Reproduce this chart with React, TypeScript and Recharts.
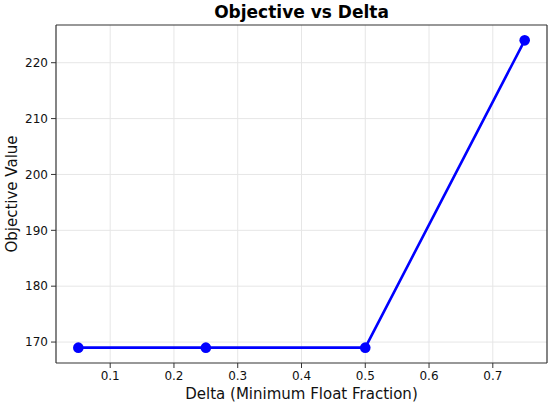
import { LineChart, Line, XAxis, YAxis, CartesianGrid, ReferenceLine } from 'recharts'

const deltas = [0.05, 0.25, 0.5, 0.75]
const objectives = [169, 169, 169, 224]
const xTicks = [0.1, 0.2, 0.3, 0.4, 0.5, 0.6, 0.7]
const yTicks = [170, 180, 190, 200, 210, 220]
const xDomain = [0.015, 0.785]
const yDomain = [166.25, 226.75]

const data = deltas.map((d, i) => ({ d, v: objectives[i] }))

const font = '"DejaVu Sans", sans-serif'
const frame = '#333333'
const tickStyle = { fontSize: 12, fill: '#111', fontFamily: font }

export default function App() {
  return (
    <div style={{ position: 'absolute', left: 0, top: 0, width: 550, height: 406, background: '#fff', fontFamily: font }}>
      <div style={{ position: 'absolute', left: 56, width: 491, top: 2, textAlign: 'center', fontSize: 17, fontWeight: 'bold', color: '#000' }}>
        Objective vs Delta
      </div>
      <div style={{ position: 'absolute', left: 56, width: 491, top: 385, textAlign: 'center', fontSize: 15, color: '#111' }}>
        Delta (Minimum Float Fraction)
      </div>
      <div style={{ position: 'absolute', left: 12, top: 194, transform: 'translate(-50%, -50%) rotate(-90deg)', whiteSpace: 'nowrap', fontSize: 15, color: '#111' }}>
        Objective Value
      </div>
      <LineChart width={550} height={406} data={data} margin={{ top: 25, right: 3, bottom: 0, left: 0 }}>
        <CartesianGrid stroke="#e6e6e6" strokeWidth={1} horizontalValues={yTicks} verticalValues={xTicks} />
        <XAxis
          dataKey="d"
          type="number"
          domain={xDomain}
          ticks={xTicks}
          allowDataOverflow
          tick={tickStyle}
          tickSize={5}
          tickMargin={3}
          axisLine={{ stroke: frame, strokeWidth: 1.2 }}
          tickLine={{ stroke: frame }}
          height={43}
        />
        <YAxis
          type="number"
          domain={yDomain}
          ticks={yTicks}
          allowDataOverflow
          tick={tickStyle}
          tickSize={5}
          tickMargin={3}
          axisLine={{ stroke: frame, strokeWidth: 1.2 }}
          tickLine={{ stroke: frame }}
          width={56}
        />
        <ReferenceLine y={yDomain[1]} stroke={frame} strokeWidth={1.2} />
        <ReferenceLine x={xDomain[1]} stroke={frame} strokeWidth={1.2} />
        <Line
          dataKey="v"
          type="linear"
          stroke="#0000ff"
          strokeWidth={2.6}
          dot={{ r: 5.3, fill: '#0000ff', stroke: '#0000ff', strokeWidth: 0 }}
          isAnimationActive={false}
        />
      </LineChart>
    </div>
  )
}
